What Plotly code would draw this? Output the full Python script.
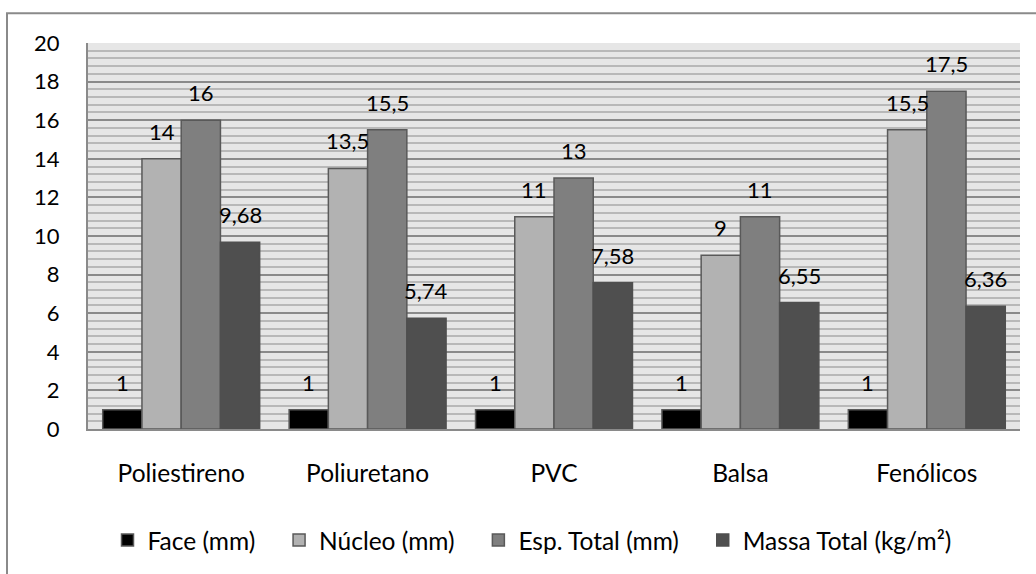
import plotly.graph_objects as go

categories = ["Poliestireno", "Poliuretano", "PVC", "Balsa", "Fenólicos"]
series_names = ["Face (mm)", "Núcleo (mm)", "Esp. Total (mm)", "Massa Total (kg/m²)"]
face = [1, 1, 1, 1, 1]
nucleo = [14, 13.5, 11, 9, 15.5]
esp_total = [16, 15.5, 13, 11, 17.5]
massa_total = [9.68, 5.74, 7.58, 6.55, 6.36]
y_ticks = list(range(0, 21, 2))

series_values = [face, nucleo, esp_total, massa_total]
colors = ["#000000", "#b2b2b2", "#7f7f7f", "#4f4f4f"]
line_colors = ["#595959", "#595959", "#595959", "#4f4f4f"]

W, H = 1036, 574
ML, MR, MT, MB = 88, 16, 43, 142
FONT = "Lato"
FS_NUM = 22
FS_TXT = 24.5
PAD = "\u00a0\u00a0\u00a0"

def fmt(v):
    s = ("%g" % v)
    return s.replace(".", ",")

fig = go.Figure()
for k, (name, vals, c, lc) in enumerate(zip(series_names, series_values, colors, line_colors)):
    fig.add_trace(go.Bar(
        x=categories, y=vals, name=name + (PAD if k < len(series_names) - 1 else ""),
        marker=dict(color=c, line=dict(color=lc, width=1.5)),
    ))

bargap = 0.158
plot_w = W - ML - MR
cat_w = plot_w / len(categories)
bar_w = cat_w * (1 - bargap) / len(series_values)

annotations = []
for i, vals in enumerate(series_values):
    off = (i - (len(series_values) - 1) / 2) * bar_w
    for cat, v in zip(categories, vals):
        annotations.append(dict(
            x=cat, y=v, xref="x", yref="y", text=fmt(v), showarrow=False,
            xshift=off, yshift=12, yanchor="bottom",
            font=dict(family=FONT, size=FS_NUM, color="#000000"),
        ))

def px_x(p):
    return (p - ML) / plot_w

plot_h = H - MT - MB
def px_y(p):
    return (H - MB - p) / plot_h

shapes = [dict(
    type="rect", xref="paper", yref="paper",
    x0=px_x(7), x1=px_x(W + 10), y0=px_y(H + 10), y1=px_y(13),
    line=dict(color="#8a8a8a", width=2), fillcolor="rgba(0,0,0,0)", layer="below",
)]

fig.update_layout(
    width=W, height=H,
    margin=dict(l=ML, r=MR, t=MT, b=MB),
    paper_bgcolor="#ffffff",
    plot_bgcolor="#e6e6e6",
    barmode="group", bargap=bargap, bargroupgap=0,
    font=dict(family=FONT, size=FS_TXT, color="#000000"),
    showlegend=True,
    legend=dict(
        orientation="h", x=px_x(532), xanchor="center", y=px_y(544), yanchor="middle",
        font=dict(family=FONT, size=FS_TXT, color="#000000"),
        traceorder="normal", itemwidth=30,
    ),
    annotations=annotations,
    shapes=shapes,
)
fig.update_yaxes(
    range=[0, 20], tickvals=y_ticks, ticktext=[str(t) for t in y_ticks],
    showgrid=True, gridcolor="#8a8a8a", gridwidth=1.5,
    minor=dict(dtick=0.4, tick0=0, showgrid=True, gridcolor="#b8b8b8", gridwidth=2),
    showline=True, linecolor="#8a8a8a", linewidth=2,
    ticks="", ticklabelstandoff=22, zeroline=False,
    tickfont=dict(family=FONT, size=FS_NUM),
)
fig.update_xaxes(
    showline=True, linecolor="#8a8a8a", linewidth=2, mirror=False,
    ticks="", ticklabelstandoff=22, showgrid=False,
    tickfont=dict(family=FONT, size=FS_TXT),
)

fig.write_html(
    "out.html",
    config={"displayModeBar": False},
    post_script="document.body.style.margin='0';document.body.style.overflow='hidden';",
)
